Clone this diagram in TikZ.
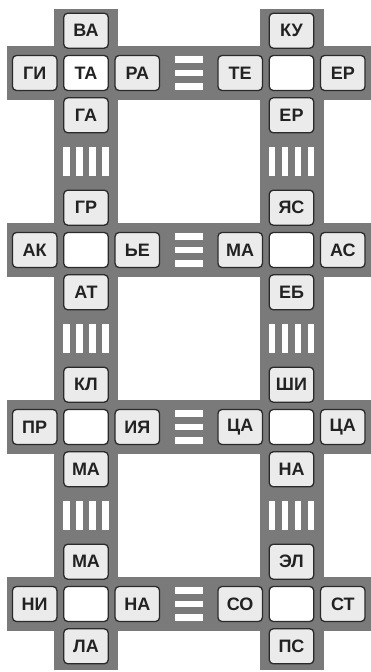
\documentclass[tikz,border=0pt]{standalone}
\usepackage{fontspec}
\setmainfont{Liberation Sans}
\usepackage{xcolor}
\usepackage{tikz}
\usetikzlibrary{positioning}

\definecolor{road}{HTML}{7A7A7A}
\definecolor{tilefill}{HTML}{EBEBEB}
\definecolor{tileline}{HTML}{2A2A2A}
\definecolor{ink}{HTML}{222222}

\tikzset{
    tile/.style={draw=tileline, line width=1.3pt, fill=tilefill, rounded corners=4pt,
        minimum width=44.5pt, minimum height=35pt, inner sep=0pt,
        font=\fontsize{18}{18}\selectfont\bfseries, text=ink},
    hub/.style={tile, fill=white},
    lane/.style={fill=white}
}

\begin{document}
\begin{tikzpicture}[x=10pt, y=10pt]
    \useasboundingbox (0,0) rectangle (37.1,67.2);

    % 1. Roads
    % Column centres and row centres
    \def\xa{8.6}
    \def\xb{29.15}
    \def\ya{59.9}
    \def\yb{42.2}
    \def\yc{24.5}
    \def\yd{6.8}
    \fill[road] (\xa-3.2, 0.2) rectangle (\xa+3.2, 66.3);
    \fill[road] (\xb-3.2, 0.2) rectangle (\xb+3.2, 66.3);
    \foreach \y in {\ya,\yb,\yc,\yd}
        \fill[road] (0.7, \y-2.7) rectangle (37.1, \y+2.7);

    % 2. Zebra stripes
    % Vertical ones between the rows
    \foreach \y in {51.05,33.35,15.65}
        \foreach \x in {\xa,\xb}
            \foreach \d in {-1.95,-0.65,0.65,1.95}
                \fill[lane] (\x+\d-0.325, \y-1.45) rectangle (\x+\d+0.325, \y+1.45);
    % Horizontal ones between the columns
    \foreach \y in {\ya,\yb,\yc,\yd}
        \foreach \d in {-1.35,0,1.35}
            \fill[lane] (17.475, \y+\d-0.325) rectangle (20.275, \y+\d+0.325);

    % 3. Crossing 1 (left, top)
    \node[hub] (c11) at (\xa, \ya) {ТА};
    \node[tile, above=6pt of c11] (n11) {ВА};
    \node[tile, below=6pt of c11] (s11) {ГА};
    \node[tile, left=5.5pt of c11] (w11) {ГИ};
    \node[tile, right=5.5pt of c11] (e11) {РА};

    % 4. Crossing 2 (right, top)
    \node[hub] (c21) at (\xb, \ya) {};
    \node[tile, above=6pt of c21] (n21) {КУ};
    \node[tile, below=6pt of c21] (s21) {ЕР};
    \node[tile, left=5.5pt of c21] (w21) {ТЕ};
    \node[tile, right=5.5pt of c21] (e21) {ЕР};

    % 5. Crossing 3 (left, second row)
    \node[hub] (c12) at (\xa, \yb) {};
    \node[tile, above=6pt of c12] (n12) {ГР};
    \node[tile, below=6pt of c12] (s12) {АТ};
    \node[tile, left=5.5pt of c12] (w12) {АК};
    \node[tile, right=5.5pt of c12] (e12) {ЬЕ};

    % 6. Crossing 4 (right, second row)
    \node[hub] (c22) at (\xb, \yb) {};
    \node[tile, above=6pt of c22] (n22) {ЯС};
    \node[tile, below=6pt of c22] (s22) {ЕБ};
    \node[tile, left=5.5pt of c22] (w22) {МА};
    \node[tile, right=5.5pt of c22] (e22) {АС};

    % 7. Crossing 5 (left, third row)
    \node[hub] (c13) at (\xa, \yc) {};
    \node[tile, above=6pt of c13] (n13) {КЛ};
    \node[tile, below=6pt of c13] (s13) {МА};
    \node[tile, left=5.5pt of c13] (w13) {ПР};
    \node[tile, right=5.5pt of c13] (e13) {ИЯ};

    % 8. Crossing 6 (right, third row)
    \node[hub] (c23) at (\xb, \yc) {};
    \node[tile, above=6pt of c23] (n23) {ШИ};
    \node[tile, below=6pt of c23] (s23) {НА};
    \node[tile, left=5.5pt of c23] (w23) {ЦА};
    \node[tile, right=5.5pt of c23] (e23) {ЦА};

    % 9. Crossing 7 (left, bottom)
    \node[hub] (c14) at (\xa, \yd) {};
    \node[tile, above=6pt of c14] (n14) {МА};
    \node[tile, below=6pt of c14] (s14) {ЛА};
    \node[tile, left=5.5pt of c14] (w14) {НИ};
    \node[tile, right=5.5pt of c14] (e14) {НА};

    % 10. Crossing 8 (right, bottom)
    \node[hub] (c24) at (\xb, \yd) {};
    \node[tile, above=6pt of c24] (n24) {ЭЛ};
    \node[tile, below=6pt of c24] (s24) {ПС};
    \node[tile, left=5.5pt of c24] (w24) {СО};
    \node[tile, right=5.5pt of c24] (e24) {СТ};

\end{tikzpicture}
\end{document}
